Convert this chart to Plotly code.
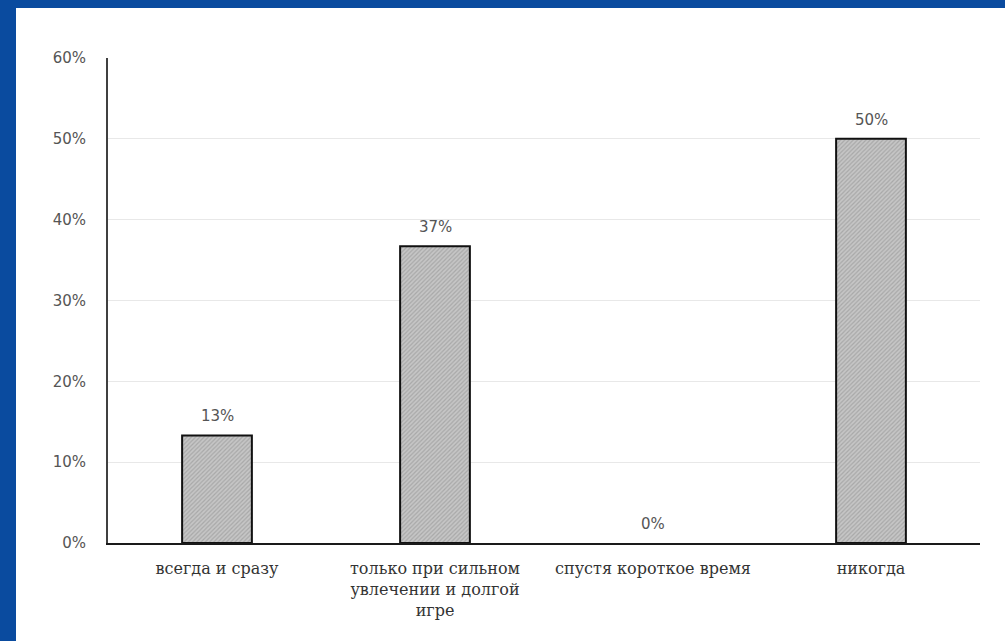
import plotly.graph_objects as go

# Survey answers and their shares (percent)
categories = [
    "всегда и сразу",
    "только при сильном<br>увлечении и долгой<br>игре",
    "спустя короткое время",
    "никогда",
]
shares = [13.3, 36.7, 0.0, 50.0]
y_ticks = [0, 10, 20, 30, 40, 50, 60]
y_tick_labels = ["0%", "10%", "20%", "30%", "40%", "50%", "60%"]

W, H = 1005, 641
ML, MR, MT, MB = 108, 25, 58, 98
plot_w = W - ML - MR
plot_h = H - MT - MB

# zero-height bars get no outline so they leave no mark on the axis
outline_widths = [2 if v > 0 else 0 for v in shares]

fig = go.Figure()
fig.add_trace(go.Bar(
    x=categories,
    y=shares,
    width=0.32,
    marker=dict(
        color="#c4c4c4",
        line=dict(color="#111111", width=outline_widths),
        pattern=dict(shape="/", fgcolor="#8a8a8a", bgcolor="#c6c6c6",
                     size=3, solidity=0.4),
    ),
    hoverinfo="skip",
))

# value labels above each bar
for c, v in zip(categories, shares):
    fig.add_annotation(
        x=c, y=v, text=f"{v:.0f}%", showarrow=False,
        yanchor="middle", yshift=19,
        font=dict(family="DejaVu Sans", size=15, color="#555555"),
    )

# white slide panel framed by blue strips on the top and left
fig.add_shape(
    type="rect", xref="paper", yref="paper", layer="below",
    x0=(16 - ML) / plot_w, x1=(W - ML) / plot_w + 0.01,
    y0=-(MB + 5) / plot_h, y1=(plot_h + MT - 8) / plot_h,
    fillcolor="white", line=dict(width=0),
)

fig.update_layout(
    width=W, height=H,
    margin=dict(l=ML, r=MR, t=MT, b=MB),
    paper_bgcolor="#0a4b9f",
    plot_bgcolor="white",
    showlegend=False,
    bargap=0.68,
    xaxis=dict(
        showline=True, linecolor="#1a1a1a", linewidth=2,
        showgrid=False, ticks="", ticklabelstandoff=10,
        tickfont=dict(family="DejaVu Serif", size=16, color="#333333"),
    ),
    yaxis=dict(
        range=[0, 60], tickvals=y_ticks, ticktext=y_tick_labels,
        showline=True, linecolor="#404040", linewidth=2,
        showgrid=True, gridcolor="#e8e8e8", gridwidth=1,
        zeroline=False, ticks="", ticklabelstandoff=17,
        tickfont=dict(family="DejaVu Sans", size=15, color="#555555"),
    ),
)

fig.write_html("out.html")
